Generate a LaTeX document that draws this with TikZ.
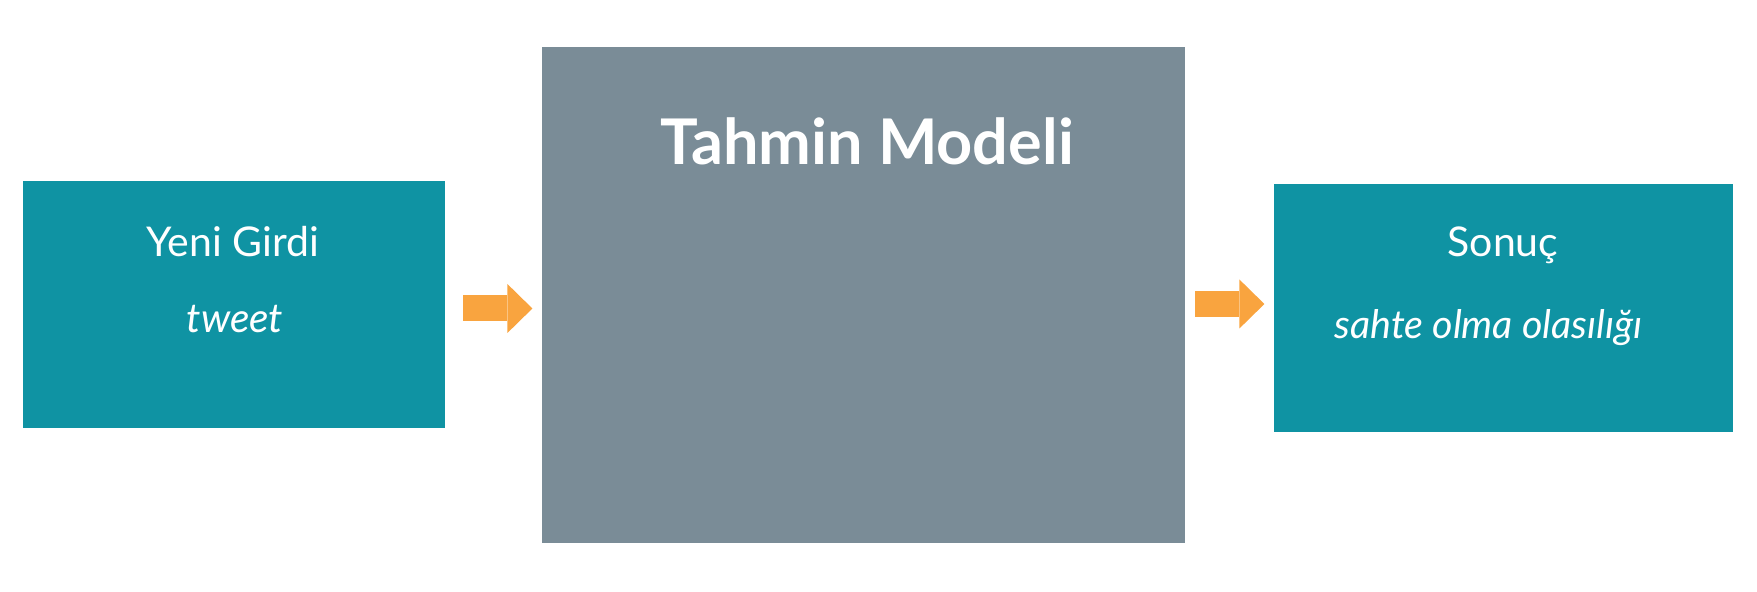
\documentclass[tikz,border=0pt]{standalone}
\usepackage{fontspec}
\setmainfont{Lato}
\usetikzlibrary{arrows.meta}

\definecolor{camgobegi}{HTML}{0F93A3}
\definecolor{gri}{HTML}{7A8C97}
\definecolor{turuncu}{HTML}{F9A43F}

\begin{document}
\begin{tikzpicture}[x=0.5pt, y=-0.5pt,
    kutu/.style={fill=camgobegi, inner sep=0pt},
    yazi/.style={text=white, anchor=base, inner sep=0pt, font=\fontsize{20.5}{24}\selectfont},
    egik/.style={yazi, font=\fontsize{20.3}{24}\selectfont\itshape},
    ok/.style={draw=turuncu, line width=13pt, -{Triangle[length=12.5pt, width=24.5pt, line width=0pt]}}]

\useasboundingbox (0,0) rectangle (1757,592);

% kutular
\foreach \ad/\x/\y/\w/\h in {girdi/234/304.2/211.3pt/123.5pt, sonuc/1503.5/308.3/229.8pt/124pt}
    \node [kutu, minimum width=\w, minimum height=\h] (\ad) at (\x,\y) {};

\node [fill=gri, inner sep=0pt, minimum width=321.6pt, minimum height=248pt] (model) at (863.7,295.3) {};

% yazilar
\node [yazi] (girdi-ust) at (233,256.5) {Yeni Girdi};
\node [egik] (girdi-alt) at (235,333) {tweet};
\node [yazi] (sonuc-ust) at (1503,256.7) {Sonuç};
\node [egik, font=\fontsize{19.7}{24}\selectfont\itshape] (sonuc-alt) at (1488.5,339) {sahte olma olasılığı};
\node [yazi, font=\fontsize{31.5}{36}\selectfont\bfseries] (model-baslik) at (867,165) {Tahmin Modeli};

% oklar
\draw [ok] (girdi.east) ++(17.7,4.3) -- ++(69,0);
\draw [ok] (model.east) ++(9.7,8.7) -- ++(69,0);

\end{tikzpicture}
\end{document}
